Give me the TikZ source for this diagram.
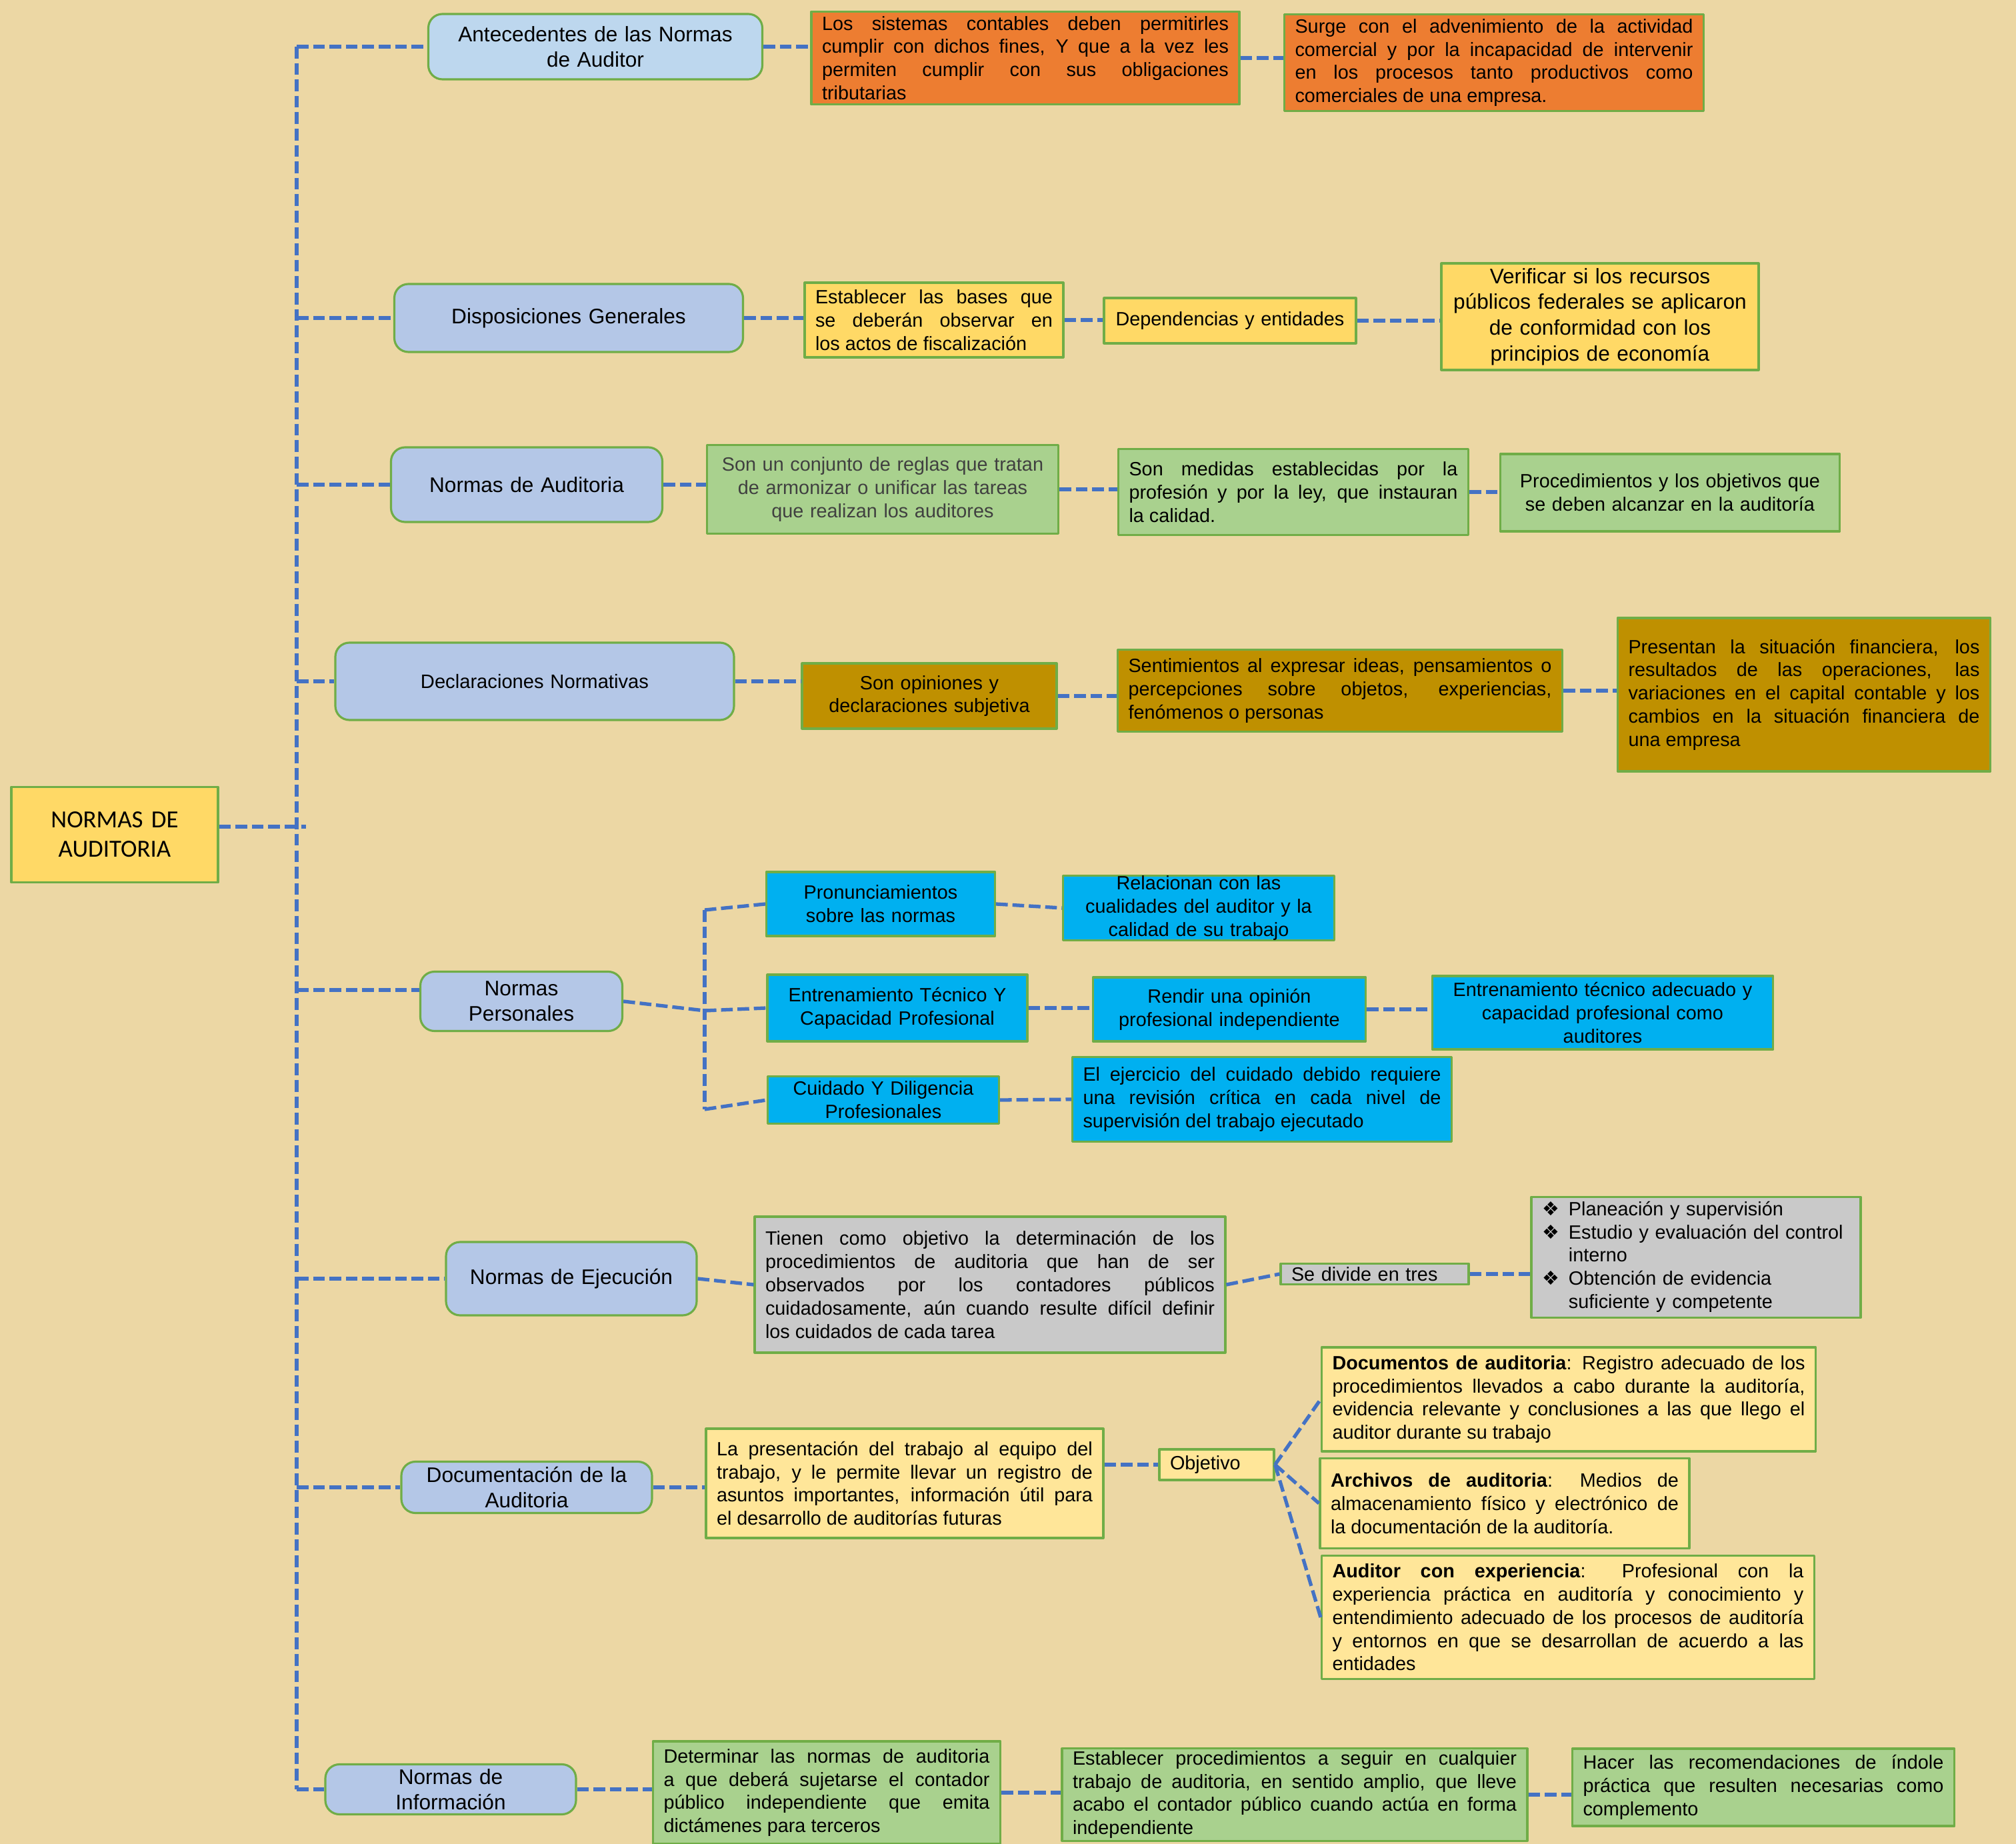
\documentclass[tikz,border=0pt]{standalone}
\usepackage{fontspec}
\setmainfont{Liberation Sans}
\newfontfamily\rootfont{Carlito}
\newfontfamily\symfont{DejaVu Sans}
\hyphenpenalty=10000 \exhyphenpenalty=10000 \tolerance=9999 \emergencystretch=2em
\definecolor{parch}{RGB}{236,215,164}
\definecolor{linkblue}{RGB}{68,114,196}
\definecolor{boxgreen}{RGB}{112,173,71}
\definecolor{headblue}{RGB}{180,199,231}
\definecolor{headlight}{RGB}{189,215,238}
\definecolor{orangebox}{RGB}{237,125,49}
\definecolor{goldbox}{RGB}{255,217,102}
\definecolor{greenbox}{RGB}{169,209,142}
\definecolor{darkgold}{RGB}{191,144,0}
\definecolor{cyanbox}{RGB}{0,176,240}
\definecolor{graybox}{RGB}{201,201,201}
\definecolor{paleyellow}{RGB}{255,230,153}
\begin{document}
\begin{tikzpicture}[line join=round,
head node/.style={rectangle,rounded corners=6pt,draw=boxgreen,line width=0.9pt,fill=headblue,align=center,inner xsep=0.17cm,inner ysep=1pt,font=\fontsize{9}{10.8}\selectfont},
text node/.style={rectangle,draw=boxgreen,line width=0.9pt,inner xsep=0.16cm,inner ysep=1pt,align=justify,font=\fontsize{8.2}{9.9}\selectfont},
link/.style={draw=linkblue,line width=1.5pt,dash pattern=on 5pt off 2pt}]
\useasboundingbox (0,0) rectangle (30.24,-27.66);
\fill[parch] (0,0) rectangle (30.24,-27.66);
% first level
\node[text node,fill=goldbox,align=center,text width=2.78cm,minimum height=1.43cm,font=\rootfont\fontsize{10.5}{12.6}\selectfont] (root) at (1.72,-12.52) {NORMAS DE\\AUDITORIA};
\node[head node,fill=headlight,text width=4.67cm,minimum height=0.98cm] (ante) at (8.93,-0.70) {Antecedentes de las Normas\\de Auditor};
\node[head node,text width=4.89cm,minimum height=1.02cm] (disp) at (8.53,-4.77) {Disposiciones Generales};
\node[head node,text width=3.73cm,minimum height=1.12cm] (naud) at (7.90,-7.27) {Normas de Auditoria};
\node[head node,text width=5.64cm,minimum height=1.16cm,font=\fontsize{8.3}{10}\selectfont] (decl) at (8.02,-10.22) {Declaraciones Normativas};
\node[head node,text width=2.69cm,minimum height=0.89cm] (pers) at (7.82,-15.02) {Normas\\Personales};
\node[head node,text width=3.42cm,minimum height=1.10cm] (ejec) at (8.57,-19.18) {Normas de Ejecución};
\node[head node,text width=3.42cm,minimum height=0.77cm] (docu) at (7.90,-22.31) {Documentación de la\\Auditoria};
\node[head node,text width=3.42cm,minimum height=0.75cm] (info) at (6.76,-26.84) {Normas de\\Información};
\begin{scope}[every node/.style={text node}]
\node[fill=orangebox,text width=6.10cm,minimum height=1.39cm] (sis) at (15.38,-0.87) {Los sistemas contables deben permitirles\linebreak cumplir con dichos fines, Y que a la vez les\linebreak permiten cumplir con sus obligaciones\linebreak tributarias};
\node[fill=orangebox,text width=5.97cm,minimum height=1.45cm] (surge) at (22.41,-0.94) {Surge con el advenimiento de la actividad\linebreak comercial y por la incapacidad de intervenir\linebreak en los procesos tanto productivos como\linebreak comerciales de una empresa.};
\node[fill=goldbox,text width=3.56cm,minimum height=1.12cm] (bases) at (14.01,-4.80) {Establecer las bases que\linebreak se deberán observar en\linebreak los actos de fiscalización};
\node[fill=goldbox,text width=3.62cm,minimum height=0.68cm,inner xsep=0.08cm,align=center] (dep) at (18.45,-4.81) {Dependencias y entidades};
\node[fill=goldbox,text width=4.44cm,minimum height=1.60cm,align=center,font=\fontsize{9}{11}\selectfont] (verif) at (24.00,-4.75) {Verificar si los recursos\\públicos federales se aplicaron\\de conformidad con los\\principios de economía};
\node[fill=greenbox,text width=4.95cm,minimum height=1.33cm,align=center,text=black!75] (conj) at (13.24,-7.34) {Son un conjunto de reglas que tratan\\de armonizar o unificar las tareas\\que realizan los auditores};
\node[fill=greenbox,text width=4.93cm,minimum height=1.29cm] (medidas) at (19.40,-7.38) {Son medidas establecidas por la\linebreak profesión y por la ley, que instauran\linebreak la calidad.};
\node[fill=greenbox,text width=4.77cm,minimum height=1.16cm,align=center] (proc) at (25.05,-7.39) {Procedimientos y los objetivos que\\se deben alcanzar en la auditoría};
\node[fill=darkgold,text width=3.50cm,minimum height=0.98cm,align=center] (opin) at (13.94,-10.44) {Son opiniones y\\declaraciones subjetiva};
\node[fill=darkgold,text width=6.35cm,minimum height=1.23cm] (sent) at (20.10,-10.36) {Sentimientos al expresar ideas, pensamientos o\linebreak percepciones sobre objetos, experiencias,\linebreak fenómenos o personas};
\node[fill=darkgold,text width=5.27cm,minimum height=2.30cm] (sitfin) at (27.06,-10.42) {Presentan la situación financiera, los\linebreak resultados de las operaciones, las\linebreak variaciones en el capital contable y los\linebreak cambios en la situación financiera de\linebreak una empresa};
\node[fill=cyanbox,text width=3.11cm,minimum height=0.96cm,align=center] (pron) at (13.21,-13.56) {Pronunciamientos\\sobre las normas};
\node[fill=cyanbox,text width=3.75cm,minimum height=0.96cm,inner ysep=0pt,align=center] (rel) at (17.98,-13.62) {Relacionan con las\\cualidades del auditor y la\\calidad de su trabajo};
\node[fill=cyanbox,text width=3.58cm,minimum height=1.00cm,align=center] (entr) at (13.46,-15.12) {Entrenamiento Técnico Y\\Capacidad Profesional};
\node[fill=cyanbox,text width=3.77cm,minimum height=0.96cm,align=center] (rend) at (18.44,-15.14) {Rendir una opinión\\profesional independiente};
\node[fill=cyanbox,text width=4.79cm,minimum height=1.10cm,align=center] (entad) at (24.04,-15.19) {Entrenamiento técnico adecuado y\\capacidad profesional como\\auditores};
\node[fill=cyanbox,text width=3.15cm,minimum height=0.71cm,inner ysep=0pt,align=center] (cuid) at (13.25,-16.50) {Cuidado Y Diligencia\\Profesionales};
\node[fill=cyanbox,text width=5.37cm,minimum height=1.27cm] (ejer) at (18.93,-16.49) {El ejercicio del cuidado debido requiere\linebreak una revisión crítica en cada nivel de\linebreak supervisión del trabajo ejecutado};
\node[fill=graybox,text width=6.74cm,minimum height=2.04cm] (tien) at (14.85,-19.27) {Tienen como objetivo la determinación de los\linebreak procedimientos de auditoria que han de ser\linebreak observados por los contadores públicos\linebreak cuidadosamente, aún cuando resulte difícil definir\linebreak los cuidados de cada tarea};
\node[fill=graybox,text width=2.50cm,minimum height=0.31cm,inner ysep=0pt,align=left] (div) at (20.62,-19.11) {Se divide en tres};
\node[fill=graybox,text width=4.62cm,minimum height=1.74cm,align=left] (tres) at (25.44,-18.86) {\begin{tabular}{@{}l@{\hspace{4pt}}l@{}}
{\symfont ❖} & Planeación y supervisión\\
{\symfont ❖} & Estudio y evaluación del control\\
 & interno\\
{\symfont ❖} & Obtención de evidencia\\
 & suficiente y competente
\end{tabular}};
\node[fill=paleyellow,text width=5.64cm,minimum height=1.64cm] (trab) at (13.57,-22.25) {La presentación del trabajo al equipo del\linebreak trabajo, y le permite llevar un registro de\linebreak asuntos importantes, información útil para\linebreak el desarrollo de auditorías futuras};
\node[fill=paleyellow,text width=1.40cm,minimum height=0.46cm,inner ysep=0pt,align=left] (obj) at (18.25,-21.97) {Objetivo};
\node[fill=paleyellow,text width=7.09cm,minimum height=1.56cm] (docs) at (23.53,-20.99) {\textbf{Documentos de auditoria}: Registro adecuado de los\linebreak procedimientos llevados a cabo durante la auditoría,\linebreak evidencia relevante y conclusiones a las que llego el\linebreak auditor durante su trabajo};
\node[fill=paleyellow,text width=5.22cm,minimum height=1.35cm] (arch) at (22.57,-22.55) {\textbf{Archivos de auditoria}: Medios de\linebreak almacenamiento físico y electrónico de\linebreak la documentación de la auditoría.};
\node[fill=paleyellow,text width=7.07cm,minimum height=1.85cm] (audexp) at (23.52,-24.26) {\textbf{Auditor con experiencia}: Profesional con la\linebreak experiencia práctica en auditoría y conocimiento y\linebreak entendimiento adecuado de los procesos de auditoría\linebreak y entornos en que se desarrollan de acuerdo a las\linebreak entidades};
\node[fill=greenbox,text width=4.89cm,minimum height=1.54cm] (det) at (12.40,-26.89) {Determinar las normas de auditoria\linebreak a que deberá sujetarse el contador\linebreak público independiente que emita\linebreak dictámenes para terceros};
\node[fill=greenbox,text width=6.66cm,minimum height=1.35cm] (estab) at (19.42,-26.92) {Establecer procedimientos a seguir en cualquier\linebreak trabajo de auditoria, en sentido amplio, que lleve\linebreak acabo el contador público cuando actúa en forma\linebreak independiente};
\node[fill=greenbox,text width=5.41cm,minimum height=1.16cm] (hacer) at (26.45,-26.81) {Hacer las recomendaciones de índole\linebreak práctica que resulten necesarias como\linebreak complemento};
\end{scope}
% trunk and branch points
\coordinate (t1) at (4.45,-0.70);
\coordinate (t2) at (4.45,-4.77);
\coordinate (t3) at (4.45,-7.27);
\coordinate (t4) at (4.45,-10.22);
\coordinate (troot) at (4.59,-12.40);
\coordinate (t5) at (4.45,-14.85);
\coordinate (t6) at (4.45,-19.18);
\coordinate (t7) at (4.45,-22.31);
\coordinate (t8) at (4.45,-26.84);
\coordinate (ptop) at (10.57,-13.65);
\coordinate (pmid) at (10.57,-15.16);
\coordinate (pbot) at (10.57,-16.64);
\begin{scope}[every edge/.style={link}]
\draw (t1) edge (t8);
\draw (root.east |- troot) edge (troot);
\draw (t1) edge (ante);
\draw (t2) edge (disp);
\draw (t3) edge (naud);
\draw (t4) edge (decl);
\draw (t5) edge (t5 -| pers.west);
\draw (t6) edge (ejec);
\draw (t7) edge (docu);
\draw (t8) edge (info);
\draw (ante.east) edge (ante.east -| sis.west);
\draw (sis.east) edge (sis.east -| surge.west);
\draw (disp.east) edge (disp.east -| bases.west);
\draw (bases.east) edge (bases.east -| dep.west);
\draw (dep.east) edge (dep.east -| verif.west);
\draw (naud.east) edge (naud.east -| conj.west);
\draw (conj.east) edge (conj.east -| medidas.west);
\draw (medidas.east) edge (medidas.east -| proc.west);
\draw (decl.east) edge (decl.east -| opin.west);
\draw (opin.east) edge (opin.east -| sent.west);
\draw (sent.east) edge (sent.east -| sitfin.west);
\draw (pers.east) edge (pmid);
\draw (ptop) edge (pbot);
\draw (ptop) edge (pron.west);
\draw (pmid) edge (entr.west);
\draw (pbot) edge (cuid.west);
\draw (pron.east) edge (rel.west);
\draw (entr.east) edge (entr.east -| rend.west);
\draw (rend.east) edge (rend.east -| entad.west);
\draw (cuid.east) edge (ejer.west);
\draw (ejec.east) edge (tien.west);
\draw (tien.east) edge (div.west);
\draw (div.east) edge (div.east -| tres.west);
\draw (docu.east) edge (docu.east -| trab.west);
\draw (obj.west -| trab.east) edge (obj.west);
\draw (obj.east) edge (docs.west);
\draw (obj.east) edge (arch.west);
\draw (obj.east) edge (audexp.west);
\draw (info.east) edge (info.east -| det.west);
\draw (det.east) edge (det.east -| estab.west);
\draw (estab.east) edge (estab.east -| hacer.west);
\end{scope}
\end{tikzpicture}
\end{document}
